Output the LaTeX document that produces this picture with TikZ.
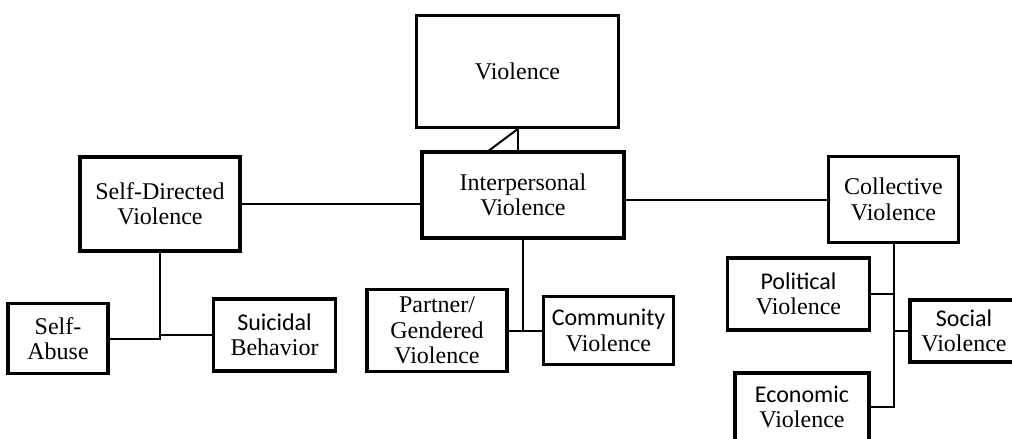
\documentclass[tikz,border=0pt]{standalone}
\usepackage{fontspec}
\setmainfont{Liberation Serif}
\newfontfamily\calib{Carlito}
\usepackage{tikz}

\begin{document}
\begin{tikzpicture}[
  x=0.5pt, y=-0.5pt,
  every node/.style={draw, line width=1.7pt, rectangle, align=center, inner sep=1pt,
    font=\fontsize{12}{12.7}\selectfont},
  link/.style={line width=1pt}
]
  \clip (0,0) rectangle (1012,439);

  \node[minimum width=101pt, minimum height=56pt] (viol) at (517.5,71.5) {Violence};
  \node[minimum width=101pt, minimum height=43pt] (inter) at (523,195) {Interpersonal\\Violence};
  \node[minimum width=80pt, minimum height=47pt] (self) at (160,204) {Self-Directed\\Violence};
  \node[minimum width=65pt, minimum height=43pt] (coll) at (893.5,199.5) {Collective\\Violence};

  \node[minimum width=50pt, minimum height=35pt] (abuse) at (58,338.5) {Self-\\Abuse};
  \node[minimum width=61pt, minimum height=36pt] (suic) at (274.5,335) {{\calib Suicidal}\\Behavior};

  \node[minimum width=70pt, minimum height=41pt] (partner) at (437,330.5) {Partner/\\Gendered\\Violence};
  \node[minimum width=65pt, minimum height=34pt] (comm) at (608.5,330.5) {{\calib Community}\\Violence};

  \node[minimum width=71pt, minimum height=36pt] (pol) at (798.5,294) {{\calib Political}\\Violence};
  \node[minimum width=54pt, minimum height=31pt] (soc) at (964,331) {{\calib Social}\\Violence};
  \node[minimum width=67pt, minimum height=34pt] (econ) at (802,407) {{\calib Economic}\\Violence};

  \coordinate (slant) at (487,152);

  % top
  \draw[link] (viol.south) -- (viol.south |- inter.north);
  \draw[link] (viol.south) -- (slant);
  \draw[link] (self.east) -- (self.east -| inter.west);
  \draw[link] (coll.west -| inter.east) -- (coll.west);

  % branches
  \draw[link] (self.south) |- (abuse.east);
  \draw[link] (self.south |- suic.west) -- (suic.west);
  \draw[link] (inter.south) |- (partner.east);
  \draw[link] (inter.south |- comm.west) -- (comm.west);
  \draw[link] (coll.south) |- (econ.east);
  \draw[link] (coll.south |- pol.east) -- (pol.east);
  \draw[link] (coll.south |- soc.west) -- (soc.west);
\end{tikzpicture}
\end{document}
